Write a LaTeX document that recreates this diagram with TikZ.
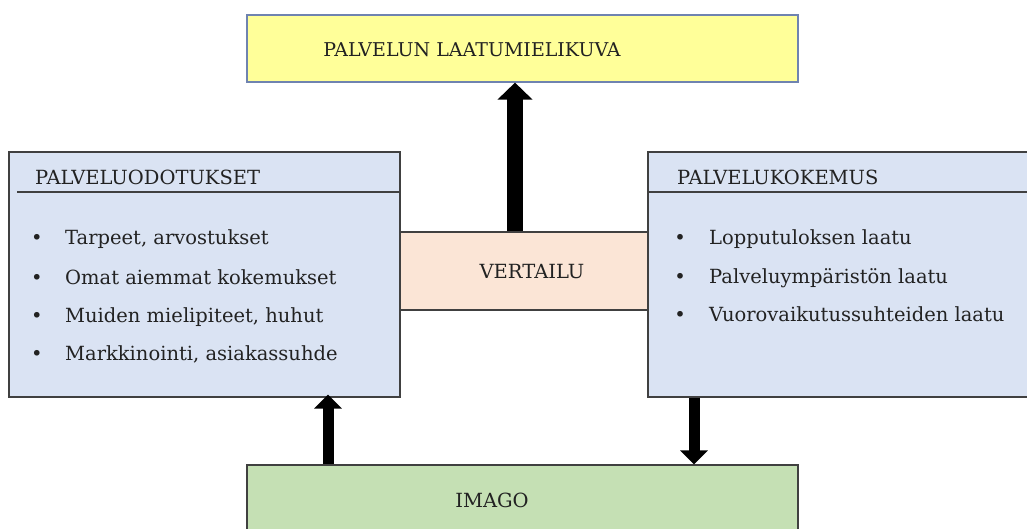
\documentclass[tikz,border=0pt]{standalone}
\usepackage{fontspec}
\setmainfont{DejaVu Serif}
\usetikzlibrary{arrows.meta}
\definecolor{yel}{HTML}{FFFF99}
\definecolor{yelb}{HTML}{6F83B0}
\definecolor{blu}{HTML}{DAE3F3}
\definecolor{pch}{HTML}{FBE5D6}
\definecolor{grn}{HTML}{C5E0B4}
\definecolor{edge}{HTML}{404040}
\definecolor{txt}{HTML}{222222}
\tikzset{
  box/.style={draw=edge, line width=1.2pt, minimum width=#1, inner sep=0pt},
  txtnode/.style={font=\fontsize{19.5}{22}\selectfont, text=txt, inner sep=0pt},
  bigarrow/.style={line width=16pt, -{Triangle[width=34pt,length=17pt]}},
  smallarrow/.style={line width=11pt, -{Triangle[width=27pt,length=14pt]}},
}
\begin{document}
\begin{tikzpicture}[x=1pt,y=-1pt]
\useasboundingbox (0,0) rectangle (1027,529);
% boxes
\node[box=551pt, minimum height=67pt, fill=yel, draw=yelb] (top) at (522.5,48.5) {};
\node[box=391pt, minimum height=245pt, fill=blu] (left) at (204.5,274.5) {};
\node[box=387pt, minimum height=245pt, fill=blu] (right) at (841.5,274.5) {};
\node[box=248pt, minimum height=78pt, fill=pch] (vert) at (524,271) {};
\node[box=551pt, minimum height=75pt, fill=grn] (imago) at (522.5,502.5) {};
% header lines
\coordinate (lh) at (17,192);
\coordinate (rh) at (648,192);
\draw[edge, line width=1.2pt] (lh) -- (lh -| left.east);
\draw[edge, line width=1.2pt] (rh) -- (rh -| right.east);
% texts
\node[txtnode, anchor=base, font=\fontsize{19}{22}\selectfont] (ttop) at (472,57) {PALVELUN LAATUMIELIKUVA};
\node[txtnode, anchor=base] (tvert) at (532,278) {VERTAILU};
\node[txtnode, anchor=base] (timago) at (492,507) {IMAGO};
\node[txtnode, anchor=base west] (tleft) at (35,185) {PALVELUODOTUKSET};
\node[txtnode, anchor=base west] (tright) at (677,185) {PALVELUKOKEMUS};
\foreach \y/\t [count=\i] in {244/{Tarpeet, arvostukset},284/{Omat aiemmat kokemukset},322/{Muiden mielipiteet, huhut},360/{Markkinointi, asiakassuhde}}{
  \node[txtnode, anchor=base] (lb\i) at (37,\y) {•};
  \node[txtnode, anchor=base west] (lt\i) at (65,\y) {\t};
}
\foreach \y/\t [count=\i] in {244/{Lopputuloksen laatu},283/{Palveluympäristön laatu},321/{Vuorovaikutussuhteiden laatu}}{
  \node[txtnode, anchor=base] (rb\i) at (680,\y) {•};
  \node[txtnode, anchor=base west] (rt\i) at (709,\y) {\t};
}
% arrows
\draw[bigarrow] (vert.north -| 515,0) -- (top.south -| 515,0);
\draw[smallarrow] (imago.north -| 328,0) -- ([yshift=3pt]left.south -| 328,0);
\draw[smallarrow] (right.south -| 694,0) -- (imago.north -| 694,0);
\end{tikzpicture}
\end{document}
